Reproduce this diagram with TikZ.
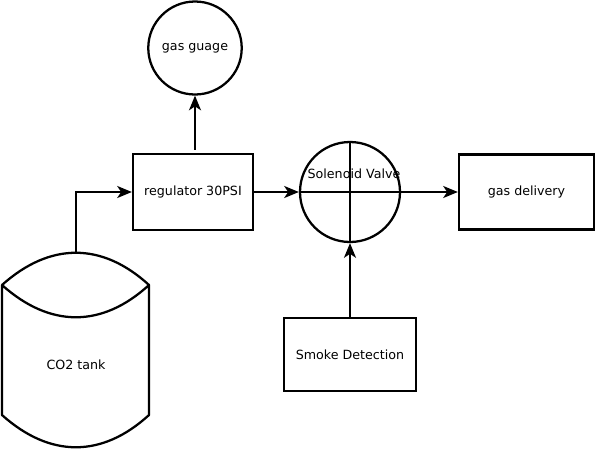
\documentclass[tikz,border=0pt]{standalone}
\usepackage{fontspec}
\setmainfont{DejaVu Sans}
\usetikzlibrary{shapes.geometric,arrows.meta}
\begin{document}
\begin{tikzpicture}[x=0.75pt,y=-0.75pt,
  every node/.style={font=\fontsize{9.5pt}{11pt}\selectfont},
  box/.style={draw,line width=1.7pt,rectangle,inner sep=0pt},
  conn/.style={line width=1.7pt,-{Stealth[length=11pt,width=9pt,inset=3pt]}},
  plain/.style={line width=1.7pt}]
\useasboundingbox (0,0) rectangle (597,451);
% nodes
\node[draw,line width=1.7pt,ellipse,minimum width=67.5pt,minimum height=69.75pt,inner sep=0pt] (gauge) at (195,48) {gas guage};
\node[box,minimum width=90pt,minimum height=57pt] (reg) at (193,192) {regulator 30PSI};
\node[draw,line width=1.7pt,circle,minimum size=75pt,inner sep=0pt,
  label={[yshift=13.5pt,xshift=3pt]center:Solenoid Valve}] (valve) at (350,192) {};
\node[box,minimum width=101.25pt,minimum height=56.25pt] (del) at (526.5,192) {gas delivery};
\node[box,minimum width=99pt,minimum height=54.75pt] (smoke) at (350,354.5) {Smoke Detection};
% tank
\draw[plain,line join=round] (2,285) .. controls (50,242) and (102,242) .. (149,285)
  .. controls (102,328) and (50,328) .. (2,285) -- (2,415)
  .. controls (50,458) and (102,458) .. (149,415) -- (149,285);
\node (tank) at (76,365) {CO2 tank};
\coordinate (tanktop) at (76,253);
% crosshair in valve
\draw[plain] (valve.north) -- (valve.south);
\draw[plain] (valve.west) -- (valve.east);
% connectors
\draw[conn] (tanktop) |- (reg.west);
\draw[conn] ([yshift=2.25pt]gauge.south |- reg.north) -- (gauge.south);
\draw[conn] (reg.east) -- (valve.west);
\draw[conn] (valve.east) -- (del.west);
\draw[conn] (smoke.north) -- (valve.south);
\end{tikzpicture}
\end{document}
